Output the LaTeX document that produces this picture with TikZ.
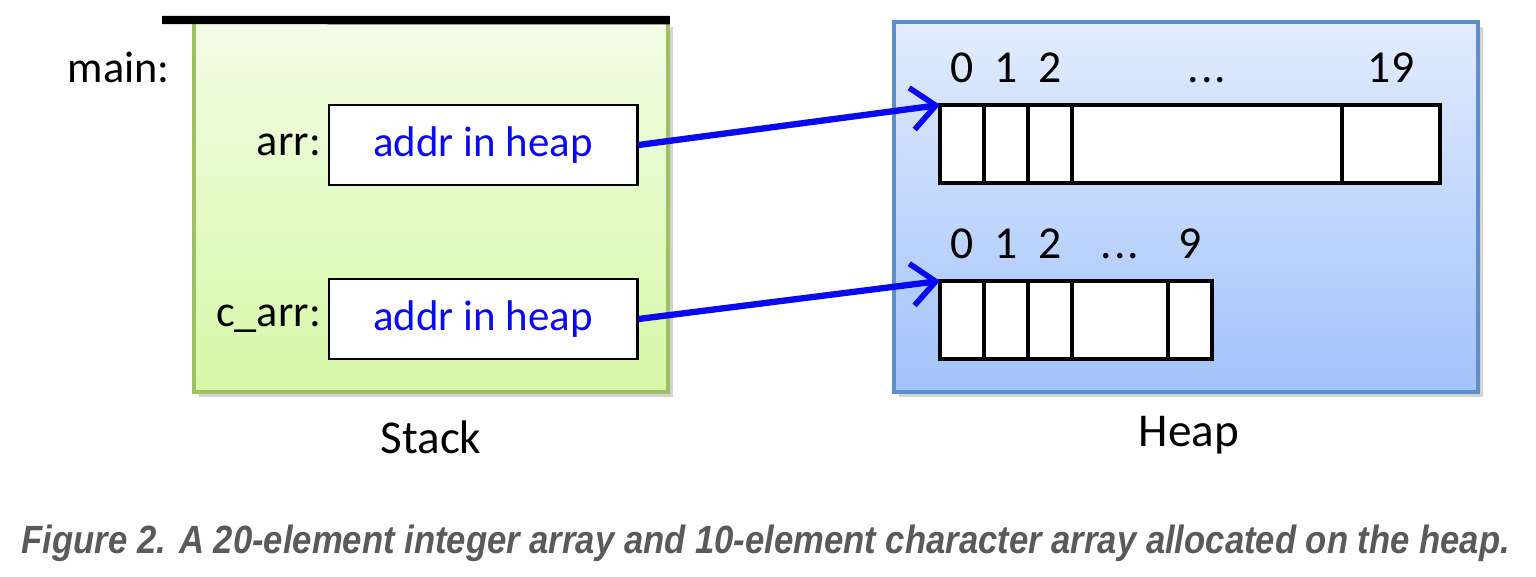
\documentclass[tikz,border=0pt]{standalone}
\usepackage{fontspec}
\setmainfont{Carlito}
\newfontfamily\capfont{Liberation Sans}
\usetikzlibrary{arrows.meta, positioning, shadows}
\definecolor{cblue}{HTML}{0A0AF0}
\definecolor{sgreentop}{HTML}{F2FDE6}
\definecolor{sgreenbot}{HTML}{D6F8A6}
\definecolor{sgreenline}{HTML}{9CC063}
\definecolor{hbluetop}{HTML}{E2ECFD}
\definecolor{hbluebot}{HTML}{A2C2FA}
\definecolor{hblueline}{HTML}{5F8FCB}
\definecolor{cgrey}{HTML}{5A5A5A}
\newcommand{\skipmark}{.\kern0.5pt.\kern0.5pt.}
\tikzset{
  every picture/.style={line width=0.8pt},
  region/.style={draw=#1, line width=1pt, inner sep=0pt,
    drop shadow={opacity=0.35, shadow xshift=1.5pt, shadow yshift=-1.5pt}},
  ptrbox/.style={draw, fill=white, text=cblue, minimum width=3.08cm, minimum height=0.80cm,
    inner sep=0pt, font=\fontsize{12.2}{14}\selectfont},
  lbl/.style={font=\fontsize{12.6}{14}\selectfont, inner sep=0pt},
  cell/.style={draw, fill=white, line width=1pt, inner sep=0pt, outer sep=0pt, minimum height=0.78cm},
  idx/.style={font=\fontsize{13}{15}\selectfont, inner sep=0pt},
  ptr/.style={-{Straight Barb[length=2.4mm, width=4.2mm, line width=1.6pt]}, draw=cblue, line width=1.8pt},
  title/.style={font=\fontsize{13.4}{16}\selectfont},
}

\begin{document}
\begin{tikzpicture}[x=0.01cm, y=-0.01cm]
  \useasboundingbox (0,0) rectangle (1536,577);
  % stack frame
  \node[region=sgreenline, top color=sgreentop, bottom color=sgreenbot,
    minimum width=4.74cm, minimum height=3.70cm] (stack) at (431,207) {};
  \coordinate (topleft) at (162,20);
  \draw[line width=2.4pt] (topleft) -- (stack.north east);
  \node[lbl, anchor=base east] (mainlbl) at (171,83) {main:};
  \node[ptrbox] (arrbox) at (483,145) {addr in heap};
  \node[lbl, anchor=east] (arrlbl) at ([xshift=-1.5pt]arrbox.west) {arr:};
  \node[ptrbox] (carrbox) at (483,319) {addr in heap};
  \node[lbl, anchor=east] (carrlbl) at ([xshift=-1.5pt]carrbox.west) {c\_arr:};
  \node[title] (stacklbl) at (431,437) {Stack};
  % heap
  \node[region=hblueline, top color=hbluetop, bottom color=hbluebot,
    minimum width=5.84cm, minimum height=3.70cm] (heap) at (1186,207) {};
  \node[title] (heaplbl) at (1189,435) {Heap};
  % int array, 20 elements
  \foreach \l/\r/\t [count=\i, evaluate=\l as \w using (\r-\l)/100] in
      {940/984/0, 984/1028/1, 1028/1072/2, 1072/1342/\skipmark, 1342/1440/19} {
    \node[cell, minimum width=\w cm] (a\i) at ({(\l+\r)/2},144) {};
    \node[idx, anchor=base] (ai\i) at ([yshift=0.22cm]a\i.north) {\t};
  }
  % char array, 10 elements
  \foreach \l/\r/\t [count=\i, evaluate=\l as \w using (\r-\l)/100] in
      {940/984/0, 984/1028/1, 1028/1072/2, 1072/1168/\skipmark, 1168/1212/9} {
    \node[cell, minimum width=\w cm] (c\i) at ({(\l+\r)/2},320) {};
    \node[idx, anchor=base] (ci\i) at ([yshift=0.22cm]c\i.north) {\t};
  }
  % pointers
  \draw[ptr] (arrbox.east) -- (a1.north west);
  \draw[ptr] (carrbox.east) -- (c1.north west);
  % caption
  \node[text=cgrey, font=\capfont\bfseries\itshape\fontsize{11.2}{13}\selectfont] (caption) at (766,543)
    {\scalebox{0.88}[1]{Figure 2. A 20-element integer array and 10-element character array allocated on the heap.}};
\end{tikzpicture}
\end{document}
